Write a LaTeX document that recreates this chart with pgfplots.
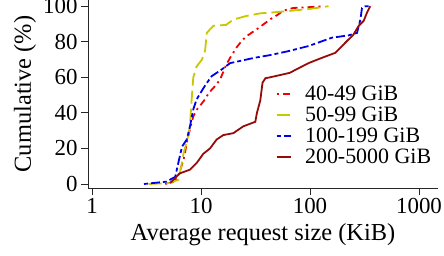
\documentclass[border=0pt]{standalone}
\usepackage{fontspec}
\setmainfont{Liberation Serif}
\usepackage{pgfplots}
\pgfplotsset{compat=1.18}
\definecolor{cred}{RGB}{240,0,0}
\definecolor{cyel}{RGB}{200,200,0}
\definecolor{cblue}{RGB}{0,0,235}
\definecolor{cdark}{RGB}{150,10,10}
\newcommand{\lf}{\fontsize{22}{22}\selectfont}
\begin{document}
\begin{tikzpicture}
\useasboundingbox (-88bp,-68bp) rectangle (356bp,188bp);
\begin{semilogxaxis}[
  at={(0,0)}, anchor=south west, scale only axis,
  width=350bp, height=188bp,
  xmin=0.919, xmax=1494, ymin=-2.26, ymax=103.5,
  axis x line=bottom, axis y line=left,
  axis line style={-, line width=0.8bp, black!85},
  tick align=outside, major tick length=7bp,
  tick style={line width=0.8bp, black!85},
  xtick={1,10,100,1000}, xticklabels={1,10,100,1000},
  xminorticks=false,
  ytick={0,20,40,60,80,100}, yticklabels={0,20,40,60,80,100},
  tick label style={font=\fontsize{23}{23}\selectfont},
  label style={font=\fontsize{24.5}{24.5}\selectfont},
  xlabel={Average request size (KiB)},
  ylabel={Cumulative (\%)},
  xlabel style={at={(axis description cs:0.5,-0.25)}, anchor=center},
  ylabel style={at={(axis description cs:-0.18,0.5)}, anchor=center},
  legend cell align=left,
  legend style={at={(axis description cs:0.536,0.555)}, anchor=north west,
    draw=none, fill=none, inner sep=0pt, outer sep=0pt, column sep=11bp,
    nodes={inner sep=2.5bp}},
  legend image code/.code={\draw[#1, line width=2bp] (0bp,0bp) -- (14bp,0bp);},
  every axis plot/.append style={line width=1.8bp},
]
\addplot[cred, dash pattern=on 2bp off 4bp on 7bp off 4bp] coordinates {
(4.7,0) (5.5,1) (6.0,3) (6.4,7) (7.0,15) (7.4,23) (8.0,32) (8.5,38) (9.2,42) (9.8,44) (11,48) (11.7,51) (13.9,56) (15,59) (16,63) (17,67) (18.5,71) (21.3,77) (24,81) (26,83) (29,85) (32.4,87) (36,89) (43,92.6) (50,95) (57,97.5) (70,99) (100,99.5) (130,100)};
\addlegendentry{\lf 40-49 GiB}
\addplot[cyel, dash pattern=on 13bp off 5bp] coordinates {
(3.3,0) (5,0.5) (6.2,2.3) (6.6,10) (6.9,17) (7.5,25) (7.9,32) (8.2,47) (8.5,60) (9.1,66) (10.2,70) (10.9,75) (11.3,85) (13,89) (17,89.5) (19.8,92.5) (26,94.5) (35,96) (45,96.5) (66,97.4) (100,98.5) (148,100)};
\addlegendentry{\lf 50-99 GiB}
\addplot[cblue, dash pattern=on 4bp off 3bp on 9bp off 3bp] coordinates {
(3.0,0) (4.8,1.3) (5.8,4) (6.2,12) (6.7,21) (7.4,25) (7.9,32) (8.5,42) (9.1,47.5) (10.8,55) (12.5,60.6) (15.5,64.4) (18.5,68) (22,69) (31,71) (43,72.5) (63,74.7) (97,77.6) (159,82.3) (226,83.6) (270,85) (290,92.6) (300,99) (322,100) (346,100)};
\addlegendentry{\lf 100-199 GiB}
\addplot[cdark] coordinates {
(5.2,0.5) (6.4,6) (7.9,8) (9.1,11.7) (10.5,17) (12.1,20) (13.9,25) (16,27.5) (19.8,28.6) (24.4,32.4) (31.5,35) (32.6,40) (35,47) (36.7,57) (39,59.5) (43,60) (65,62.5) (97,68) (129,71) (171,73.8) (211,79.5) (250,84) (280,89) (311,91.8) (334,96.5) (357,100)};
\addlegendentry{\lf 200-5000 GiB}
\end{semilogxaxis}
\end{tikzpicture}
\end{document}
